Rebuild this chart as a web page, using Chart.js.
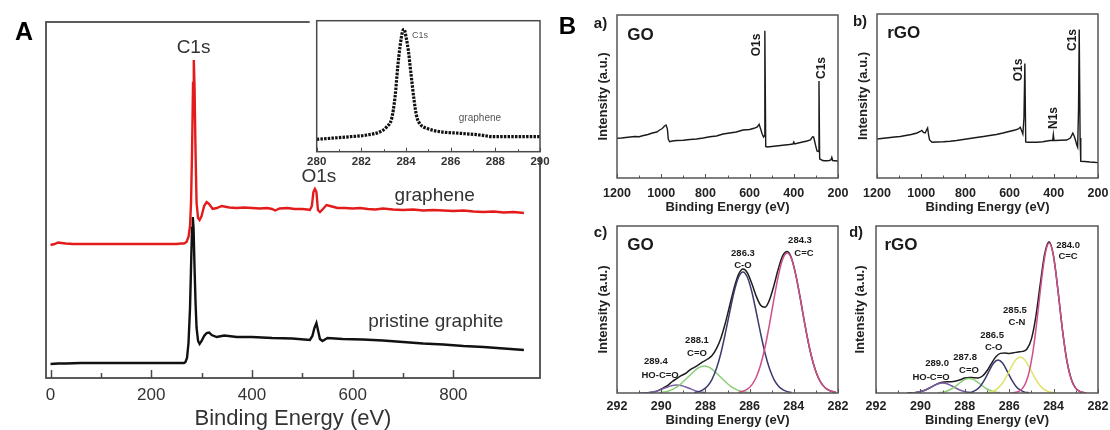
<!DOCTYPE html>
<html>
<head>
<meta charset="utf-8">
<script src="https://cdn.jsdelivr.net/npm/chart.js@4.4.0/dist/chart.umd.min.js"></script>
<style>
body { margin: 0; background: #fff; }
#wrap { position: relative; width: 1110px; height: 430px; overflow: hidden; }
canvas { position: absolute; }
</style>
</head>
<body>
<div id="wrap">
  <canvas id="cMain" width="560" height="430" style="left:0;top:0"></canvas>
  <canvas id="cInset" width="265" height="175" style="left:290px;top:0"></canvas>
  <canvas id="cA" width="290" height="215" style="left:560px;top:0"></canvas>
  <canvas id="cB" width="260" height="215" style="left:850px;top:0"></canvas>
  <canvas id="cC" width="290" height="215" style="left:560px;top:215px"></canvas>
  <canvas id="cD" width="260" height="215" style="left:850px;top:215px"></canvas>
</div>
<script>
// ---- Panel A: survey spectra (eV, a.u.) ----
const mainTickLabels = [0, 200, 400, 600, 800];

const grapheneEnergy = [0, 8, 15, 22, 30, 45, 60, 80, 100, 125, 150, 175, 200, 225, 250, 260, 265, 270, 274, 277, 279, 281, 283, 284.5, 286, 288, 290, 293, 296, 300, 305, 310, 315, 322, 330, 340, 355, 370, 385, 400, 415, 430, 440, 446, 455, 470, 485, 500, 510, 515, 519, 522, 525, 528, 531, 535, 541, 548, 555, 570, 585, 600, 615, 630, 645, 660, 680, 700, 720, 740, 760, 780, 800, 820, 840, 860, 880, 900, 920, 940];
const grapheneValue = [133, 134, 135.5, 135, 134.5, 134, 134, 134, 134, 134, 134, 134, 134, 134, 134, 134.5, 134.5, 136, 141, 152, 175, 225, 295, 318, 290, 225, 175, 160, 158, 162, 172, 176, 174, 169, 170, 172, 170.5, 170, 170.5, 170, 169.5, 170, 169, 167.5, 169.5, 170, 169, 169, 168.5, 168, 172, 186, 189, 186, 168, 166, 169, 173, 172, 170, 170, 169.5, 170, 169, 168.5, 169.5, 168.5, 168, 168.5, 167.5, 168, 167.5, 167, 167.5, 166.5, 166, 166.5, 165.5, 166, 165];

const graphiteEnergy = [0, 15, 30, 60, 100, 150, 200, 250, 265, 268, 271, 274, 277, 279, 281, 282.5, 284, 286, 288, 290, 293, 296, 300, 305, 310, 315, 320, 330, 345, 370, 400, 440, 480, 515, 520, 524, 528, 531, 535, 540, 550, 580, 620, 660, 700, 740, 780, 820, 860, 900, 940];
const graphiteValue = [14, 14.5, 14.5, 15, 15, 15, 15, 15, 15, 16, 20, 35, 70, 110, 150, 161, 150, 110, 75, 50, 37, 34, 37, 42, 45, 45.5, 43, 41, 42.5, 41, 41, 40, 39.5, 38, 42, 50, 55, 48, 39, 37, 40, 39, 38.5, 37.5, 36, 34.5, 33.5, 32, 31, 29.5, 28];

const insetEnergy = [280, 281.5, 282.24, 282.84, 283.14, 283.36, 283.51, 283.63, 283.73, 283.84, 283.91, 284.0, 284.1, 284.22, 284.36, 284.48, 284.63, 284.93, 285.53, 286.42, 287.32, 287.92, 288.97, 290];
const insetValue = [12.4, 15, 16.7, 20, 25, 33.4, 55, 85, 105, 120, 122.4, 115, 101.7, 78.4, 51.7, 35, 27.7, 23.4, 20, 18.4, 16.7, 15, 15, 15];

// ---- Panel B a) GO survey, b) rGO survey ----
const goSurveyEnergy = [1200, 1180, 1160, 1140, 1120, 1100, 1080, 1060, 1040, 1020, 1007, 995, 985, 978, 972, 968, 962, 950, 930, 900, 870, 840, 810, 780, 750, 720, 690, 660, 630, 600, 580, 565, 557, 550, 543, 537, 534, 531, 527, 520, 500, 480, 460, 440, 420, 404, 400, 396, 380, 360, 340, 325, 315, 310, 305, 300, 295, 289, 286, 283, 278, 270, 260, 250, 240, 232, 228, 224, 215, 200];
const goSurveyValue = [39.7, 40, 40.5, 41, 41.5, 41.3, 42.5, 43.5, 45, 46, 48, 49.5, 52, 53, 49, 39, 36.3, 37, 37.5, 37.8, 38.5, 39, 40, 41.3, 42, 44, 45, 46, 48, 48.5, 49.7, 51, 53.7, 49, 44, 41, 42, 147.3, 31.5, 31, 31.5, 32, 32.5, 33, 33.5, 34, 36, 34, 35, 36, 37, 38, 41.3, 41, 36, 31.3, 27, 26.5, 97, 19, 18.7, 17.5, 17.3, 17.3, 17.5, 18, 20.7, 17.5, 17.3, 17];

const rgoSurveyEnergy = [1200, 1180, 1160, 1140, 1120, 1095, 1070, 1045, 1019, 1005, 997, 990, 982, 976, 971, 966, 962, 951, 930, 900, 869, 840, 810, 780, 750, 718, 690, 660, 630, 598, 575, 560, 552, 545, 540, 535, 531, 527, 520, 500, 477, 450, 417, 405, 402, 399, 394, 370, 342, 325, 314, 308, 302, 296, 292, 288, 285, 281, 278, 260, 236, 220, 200];
const rgoSurveyValue = [39, 39.5, 40, 40.5, 41, 41.5, 42.5, 43.5, 45, 46.5, 47.5, 45.5, 45, 48, 50, 42, 38, 35.8, 36, 36.3, 36.8, 37.5, 38.5, 39.5, 40.5, 41.5, 42.5, 43.5, 45, 46.8, 48, 49, 50.8, 47, 44, 60, 114.4, 36, 35.8, 35.8, 35.8, 36.3, 37.5, 37.5, 43.5, 37.5, 37.5, 37.8, 38, 40, 44.8, 42, 38, 33, 30.8, 70, 148.5, 40, 16.7, 16.5, 16, 15.8, 15.4];

// ---- c) GO C1s fit ----
const goEnvEnergy = [282.1, 282.3, 282.5, 282.7, 282.9, 283.1, 283.3, 283.5, 283.7, 283.9, 284.1, 284.3, 284.5, 284.7, 284.9, 285.1, 285.3, 285.5, 285.7, 285.9, 286.1, 286.3, 286.5, 286.7, 286.9, 287.1, 287.3, 287.5, 287.7, 287.9, 288.1, 288.3, 288.5, 288.7, 288.9, 289.1, 289.3, 289.5, 289.7, 289.9, 290.1, 290.3, 290.5, 290.8];
const goEnv = [0.6, 1.7, 3.8, 8.1, 15.8, 28.3, 46, 68.7, 93.8, 117.2, 134.6, 141.4, 137.3, 124.2, 107.5, 93.1, 85.8, 87.7, 96.8, 109.4, 120.2, 124, 118.6, 105.1, 87.5, 69.7, 54.8, 44.3, 37.4, 34, 31.3, 28.4, 25.7, 23.1, 19.5, 17.3, 14.3, 11.5, 7.7, 5.2, 2.9, 1.3, 0.5, 0];
const goCCEnergy = [282.1, 282.3, 282.5, 282.7, 282.9, 283.1, 283.3, 283.5, 283.7, 283.9, 284.1, 284.3, 284.5, 284.7, 284.9, 285.1, 285.3, 285.5, 285.7, 285.9, 286.1, 286.3, 286.5];
const goCC = [0.6, 1.7, 3.8, 8.1, 15.8, 28.3, 46, 68.7, 93.8, 117.2, 134, 140, 134, 117.2, 93.8, 68.7, 46, 28.3, 15.8, 8.1, 3.8, 1.7, 0.6];
const goCOEnergy = [284.1, 284.3, 284.5, 284.7, 284.9, 285.1, 285.3, 285.5, 285.7, 285.9, 286.1, 286.3, 286.5, 286.7, 286.9, 287.1, 287.3, 287.5, 287.7, 287.9, 288.1, 288.3, 288.5];
const goCO = [0.6, 1.4, 3.3, 7, 13.7, 24.4, 39.8, 59.4, 81, 101.3, 115.8, 121, 115.8, 101.3, 81, 59.4, 39.8, 24.4, 13.7, 7, 3.3, 1.4, 0.6];
const goCdOEnergy = [286.0, 286.4, 286.8, 287.2, 287.5, 287.8, 288.05, 288.3, 288.6, 288.9, 289.3, 289.7, 290.1];
const goCdO = [0.4, 1.7, 5.8, 13.5, 19.9, 25.4, 27, 25.4, 19.9, 13.5, 5.8, 1.7, 0.4];
const goCOOHEnergy = [288.0, 288.4, 288.8, 289.1, 289.3, 289.5, 289.8, 290.2, 290.6, 291.0];
const goCOOH = [0.3, 1.8, 5.3, 7.5, 8, 7.5, 5.3, 1.8, 0.3, 0];

// ---- d) rGO C1s fit ----
const rgoEnvEnergy = [282.6, 282.8, 283.0, 283.2, 283.4, 283.6, 283.8, 284.0, 284.2, 284.4, 284.6, 284.8, 285.0, 285.2, 285.4, 285.6, 285.8, 286.0, 286.2, 286.4, 286.6, 286.8, 287.0, 287.2, 287.4, 287.6, 287.8, 288.0, 288.2, 288.4, 288.6, 288.8, 289.0, 289.2, 289.4, 289.6, 289.8, 290.0, 290.2, 290.4, 290.6];
const rgoEnv = [0.3, 1.3, 4.6, 13.4, 32, 62.9, 102, 136.6, 151.2, 139.4, 109.1, 76.4, 53.9, 44, 41.6, 41.1, 40.2, 39.6, 40, 39.6, 36.2, 29.6, 22.2, 17, 15.1, 15.3, 15.6, 14.9, 13.3, 12, 11.3, 11.2, 10.8, 9.5, 7.3, 4.9, 2.8, 1.4, 0.6, 0.2, 0];
const rgoCCEnergy = [282.5, 282.7, 282.85, 283.0, 283.15, 283.3, 283.45, 283.6, 283.75, 283.9, 284.05, 284.2, 284.35, 284.5, 284.65, 284.8, 284.95, 285.1, 285.25, 285.4, 285.55, 285.7, 285.9];
const rgoCC = [0.1, 0.7, 1.8, 4.6, 10.5, 21.2, 38.6, 62.9, 92, 120.7, 142, 150, 142, 120.7, 92, 62.9, 38.6, 21.2, 10.5, 4.6, 1.8, 0.7, 0.1];
const rgoCNEnergy = [283.9, 284.1, 284.3, 284.5, 284.7, 284.9, 285.1, 285.3, 285.5, 285.7, 285.9, 286.1, 286.3, 286.5, 286.7, 286.9, 287.1];
const rgoCN = [0.2, 0.7, 2, 4.9, 10, 17.5, 26.1, 33.2, 36, 33.2, 26.1, 17.5, 10, 4.9, 2, 0.7, 0.2];
const rgoCOEnergy = [285.1, 285.3, 285.5, 285.7, 285.9, 286.1, 286.3, 286.5, 286.7, 286.9, 287.1, 287.3, 287.5, 287.7, 287.9];
const rgoCO = [0.2, 0.9, 2.8, 6.8, 13.6, 22.2, 29.9, 33, 29.9, 22.2, 13.6, 6.8, 2.8, 0.9, 0.2];
const rgoCdOEnergy = [286.4, 286.6, 286.8, 287.0, 287.2, 287.4, 287.6, 287.8, 288.0, 288.2, 288.4, 288.6, 288.8, 289.0, 289.2];
const rgoCdO = [0.3, 0.8, 2, 4, 7.1, 10.5, 13.4, 14.5, 13.4, 10.5, 7.1, 4, 2, 0.8, 0.3];
const rgoCOOHEnergy = [287.6, 287.8, 288.0, 288.2, 288.4, 288.6, 288.8, 289.0, 289.2, 289.4, 289.6, 289.8, 290.0, 290.2, 290.4];
const rgoCOOH = [0.2, 0.6, 1.4, 2.8, 4.9, 7.3, 9.2, 10, 9.2, 7.3, 4.9, 2.8, 1.4, 0.6, 0.2];

const FONT = '"Liberation Sans", Arial, sans-serif';
Chart.defaults.font.family = FONT;
Chart.defaults.animation = false;

const pts = (xs, ys) => xs.map((x, i) => ({ x: x, y: ys[i] }));
const plain = (v) => String(v);

// frame round the plot area + inward tick marks on the bottom axis
const boxTicks = {
    id: 'boxTicks',
    beforeDraw(chart, args, opts) {
        if (!opts.whiteBg) return;
        const a = chart.chartArea, ctx = chart.ctx;
        ctx.save();
        ctx.fillStyle = '#fff';
        ctx.fillRect(a.left - 7, 0, a.right - a.left + 13, a.bottom + 5);
        ctx.restore();
    },
    afterDatasetsDraw(chart, args, opts) {
        if (!opts.width) return;
        const a = chart.chartArea, ctx = chart.ctx, sx = chart.scales.x;
        ctx.save();
        ctx.strokeStyle = opts.color;
        ctx.lineWidth = opts.tickWidth;
        const mark = (v, len) => {
            const px = Math.round(sx.getPixelForValue(v)) + 0.5;
            ctx.beginPath();
            ctx.moveTo(px, a.bottom);
            ctx.lineTo(px, a.bottom - len);
            ctx.stroke();
        };
        for (let v = opts.from; v <= opts.to + 1e-9; v += opts.step) mark(v, opts.majorLen);
        for (let v = opts.from + opts.step / 2; v < opts.to; v += opts.step) mark(v, opts.minorLen);
        ctx.lineWidth = opts.width;
        ctx.strokeRect(a.left, a.top, a.right - a.left, a.bottom - a.top);
        ctx.restore();
    }
};

// text notes, either at data coordinates (x/y) or at canvas pixels (px/py)
const notes = {
    id: 'notes',
    afterDraw(chart, args, opts) {
        const ctx = chart.ctx, sx = chart.scales.x, sy = chart.scales.y;
        (opts.items || []).forEach(n => {
            const x = n.px != null ? n.px : sx.getPixelForValue(n.x);
            const y = n.py != null ? n.py : sy.getPixelForValue(n.y);
            ctx.save();
            ctx.font = n.font;
            ctx.fillStyle = n.color || '#1a1a1a';
            ctx.textAlign = 'center';
            ctx.textBaseline = 'middle';
            ctx.translate(x, y);
            if (n.rot) ctx.rotate(-Math.PI / 2);
            ctx.fillText(n.text, 0, 0);
            ctx.restore();
        });
    }
};
Chart.register(boxTicks, notes);

function line(data, color, width, extra) {
    return Object.assign({ data: data, borderColor: color, borderWidth: width, pointRadius: 0, fill: false, tension: 0 }, extra || {});
}

const noHover = { legend: { display: false }, tooltip: { enabled: false } };

// ---------- Panel A ----------
new Chart(document.getElementById('cMain'), {
    type: 'line',
    data: { datasets: [
        line(pts(grapheneEnergy, grapheneValue), '#e31b1b', 2.4),
        line(pts(graphiteEnergy, graphiteValue), '#111', 2.4)
    ] },
    options: {
        responsive: false,
        layout: { padding: { left: 46, right: 20, top: 22, bottom: 0 } },
        plugins: Object.assign({}, noHover, {
            boxTicks: { color: '#4a4a4a', width: 1.8, tickWidth: 1.5, from: 0, to: 800, step: 200, majorLen: 8, minorLen: 5 },
            notes: { items: [
                { text: 'A', px: 24, py: 33, font: 'bold 25px ' + FONT, color: '#000' },
                { text: 'C1s', x: 284, y: 330, font: '19px ' + FONT, color: '#333' },
                { text: 'O1s', x: 533, y: 201, font: '19px ' + FONT, color: '#333' },
                { text: 'graphene', x: 763, y: 182, font: '19px ' + FONT, color: '#333' },
                { text: 'pristine graphite', x: 765, y: 56, font: '19px ' + FONT, color: '#333' }
            ] }
        }),
        scales: {
            x: {
                type: 'linear', min: -9, max: 972,
                afterFit(s) { s.height = 52; },
                afterBuildTicks(s) { s.ticks = mainTickLabels.map(v => ({ value: v })); },
                grid: { display: false }, border: { display: false },
                ticks: { padding: -1, color: '#333', font: { size: 17 }, callback: plain, autoSkip: false, maxRotation: 0 },
                title: { display: true, text: 'Binding Energy (eV)', color: '#333', font: { size: 22, lineHeight: 1 }, padding: { top: 0, bottom: 0 } }
            },
            y: { display: false, min: 0, max: 356 }
        }
    }
});

// inset of panel A
new Chart(document.getElementById('cInset'), {
    type: 'line',
    data: { datasets: [
        line(pts(insetEnergy, insetValue), '#111', 3.2, { borderDash: [2.5, 1.2], cubicInterpolationMode: 'monotone' })
    ] },
    options: {
        responsive: false,
        layout: { padding: { left: 26.7, right: 15, top: 20.7, bottom: 0 } },
        plugins: Object.assign({}, noHover, {
            boxTicks: { whiteBg: true, color: '#4a4a4a', width: 1.5, tickWidth: 1, from: 280, to: 290, step: 2, majorLen: 4, minorLen: 2.5 },
            notes: { items: [
                { text: 'C1s', x: 284.63, y: 115.7, font: '9px ' + FONT, color: '#555' },
                { text: 'graphene', x: 287.31, y: 33.7, font: '10px ' + FONT, color: '#555' }
            ] }
        }),
        scales: {
            x: {
                type: 'linear', min: 280, max: 290,
                afterFit(s) { s.height = 23.3; },
                grid: { display: false }, border: { display: false },
                ticks: { stepSize: 2, padding: -5, color: '#333', font: { size: 11.5, weight: 'bold' }, callback: plain }
            },
            y: { display: false, min: 0, max: 131 }
        }
    }
});

// ---------- Panel B ----------
function bChart(id, datasets, cfg) {
    return new Chart(document.getElementById(id), {
        type: 'line',
        data: { datasets: datasets },
        options: {
            responsive: false,
            layout: { padding: { left: 0, right: cfg.right, top: cfg.top, bottom: 0 } },
            plugins: Object.assign({}, noHover, {
                boxTicks: Object.assign({ color: '#555', width: 1.5, tickWidth: 1, majorLen: 4, minorLen: 2.5 }, cfg.ticks),
                notes: { items: cfg.notes }
            }),
            scales: {
                x: {
                    type: 'linear', reverse: true, min: cfg.xmin, max: cfg.xmax,
                    afterFit(s) { s.height = cfg.xh; },
                    grid: { display: false }, border: { display: false },
                    ticks: { stepSize: cfg.step, padding: cfg.tickPad, color: '#222', font: { size: 12.5, weight: 'bold' }, callback: plain, autoSkip: false, maxRotation: 0 },
                    title: { display: true, text: 'Binding Energy (eV)', color: '#222', font: { size: 13, weight: 'bold', lineHeight: 1 }, padding: { top: 0, bottom: cfg.titlePad } }
                },
                y: {
                    min: 0, max: cfg.ymax,
                    afterFit(s) { s.width = cfg.yw; },
                    grid: { display: false }, border: { display: false },
                    ticks: { display: false },
                    title: { display: true, text: 'Intensity (a.u.)', color: '#222', font: { size: 13, weight: 'bold', lineHeight: 1 }, padding: { top: cfg.yTitlePad, bottom: 0 } }
                }
            }
        }
    });
}

const BOLD = (s) => 'bold ' + s + 'px ' + FONT;

bChart('cA', [line(pts(goSurveyEnergy, goSurveyValue), '#1a1a1a', 1.4)], {
    right: 12, top: 15, xh: 37, yw: 57, yTitlePad: 36.5, tickPad: 0, titlePad: 1.5,
    xmin: 200, xmax: 1200, step: 200, ymax: 163,
    ticks: { from: 200, to: 1200, step: 200 },
    notes: [
        { text: 'B', px: 7.5, py: 27, font: BOLD(24), color: '#000' },
        { text: 'a)', px: 40.5, py: 24, font: BOLD(15) },
        { text: 'GO', px: 80.5, py: 35, font: BOLD(17) },
        { text: 'O1s', x: 568, y: 133, font: BOLD(12), rot: true },
        { text: 'C1s', x: 274, y: 110, font: BOLD(12), rot: true }
    ]
});

bChart('cB', [line(pts(rgoSurveyEnergy, rgoSurveyValue), '#1a1a1a', 1.4)], {
    right: 12, top: 14, xh: 37, yw: 27, yTitlePad: 6.5, tickPad: 0, titlePad: 1.5,
    xmin: 200, xmax: 1200, step: 200, ymax: 164,
    ticks: { from: 200, to: 1200, step: 200 },
    notes: [
        { text: 'b)', px: 10, py: 22, font: BOLD(15) },
        { text: 'rGO', px: 53.7, py: 33, font: BOLD(17) },
        { text: 'O1s', x: 560, y: 108, font: BOLD(12), rot: true },
        { text: 'N1s', x: 401, y: 60, font: BOLD(12), rot: true },
        { text: 'C1s', x: 314, y: 138, font: BOLD(12), rot: true }
    ]
});

const PINK = '#cf4f88', NAVY = '#3b3b6d', GREEN = '#8ccd78', PURPLE = '#7a5ea2', YELLOW = '#e0e36a', ENV = '#1e1e1e';
const smooth = { cubicInterpolationMode: 'monotone' };
const lab = (s) => BOLD(s);

bChart('cC', [
    line(pts(goCCEnergy, goCC), PINK, 1.5, smooth),
    line(pts(goCOEnergy, goCO), NAVY, 1.5, smooth),
    line(pts(goCdOEnergy, goCdO), GREEN, 1.5, smooth),
    line(pts(goCOOHEnergy, goCOOH), PURPLE, 1.5, smooth),
    line(pts(goEnvEnergy, goEnv), ENV, 1.5, smooth)
], {
    right: 12, top: 11, xh: 37, yw: 57, yTitlePad: 36.5, tickPad: -1.5, titlePad: 3.5,
    xmin: 282, xmax: 292, step: 2, ymax: 167,
    ticks: { from: 282, to: 292, step: 2 },
    notes: [
        { text: 'c)', px: 40.5, py: 18, font: BOLD(15) },
        { text: 'GO', px: 80.5, py: 30, font: BOLD(17) },
        { text: '286.3', x: 286.3, y: 140, font: lab(9.5) },
        { text: 'C-O', x: 286.3, y: 128, font: lab(9.5) },
        { text: '284.3', x: 283.72, y: 153, font: lab(9.5) },
        { text: 'C=C', x: 283.54, y: 140, font: lab(9.5) },
        { text: '288.1', x: 288.38, y: 53, font: lab(9.5) },
        { text: 'C=O', x: 288.38, y: 40, font: lab(9.5) },
        { text: '289.4', x: 290.24, y: 32, font: lab(9.5) },
        { text: 'HO-C=O', x: 290.05, y: 18, font: lab(9.5) }
    ]
});

bChart('cD', [
    line(pts(rgoCCEnergy, rgoCC), PINK, 1.5, smooth),
    line(pts(rgoCNEnergy, rgoCN), YELLOW, 1.5, smooth),
    line(pts(rgoCOEnergy, rgoCO), NAVY, 1.5, smooth),
    line(pts(rgoCdOEnergy, rgoCdO), GREEN, 1.5, smooth),
    line(pts(rgoCOOHEnergy, rgoCOOH), PURPLE, 1.5, smooth),
    line(pts(rgoEnvEnergy, rgoEnv), ENV, 1.5, smooth)
], {
    right: 12, top: 11, xh: 37, yw: 26, yTitlePad: 3.5, tickPad: -1.5, titlePad: 3.5,
    xmin: 282, xmax: 292, step: 2, ymax: 167,
    ticks: { from: 282, to: 292, step: 2 },
    notes: [
        { text: 'd)', px: 6, py: 18, font: BOLD(15) },
        { text: 'rGO', px: 51, py: 30, font: BOLD(17) },
        { text: '284.0', x: 283.35, y: 148, font: lab(9.5) },
        { text: 'C=C', x: 283.35, y: 137, font: lab(9.5) },
        { text: '285.5', x: 285.74, y: 83, font: lab(9.5) },
        { text: 'C-N', x: 285.65, y: 71, font: lab(9.5) },
        { text: '286.5', x: 286.77, y: 58, font: lab(9.5) },
        { text: 'C-O', x: 286.7, y: 46, font: lab(9.5) },
        { text: '287.8', x: 287.99, y: 36, font: lab(9.5) },
        { text: 'C=O', x: 287.81, y: 23, font: lab(9.5) },
        { text: '289.0', x: 289.25, y: 30, font: lab(9.5) },
        { text: 'HO-C=O', x: 289.52, y: 16, font: lab(9.5) }
    ]
});
</script>
</body>
</html>
